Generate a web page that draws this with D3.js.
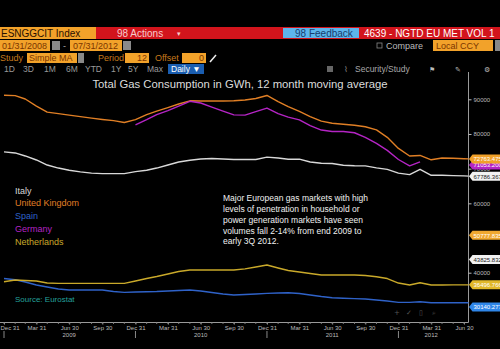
<!DOCTYPE html>
<html><head><meta charset="utf-8">
<script src="https://cdn.jsdelivr.net/npm/d3@7"></script>
<style>
html,body{margin:0;padding:0;background:#000;}
svg{display:block;font-family:"Liberation Sans",Arial,sans-serif;}
</style></head>
<body><svg id="c" width="500" height="349"></svg>
<script>
// ---------- DATA ----------
const months = ["2008-12","2009-01","2009-02","2009-03","2009-04","2009-05","2009-06","2009-07","2009-08","2009-09","2009-10","2009-11",
"2009-12","2010-01","2010-02","2010-03","2010-04","2010-05","2010-06","2010-07","2010-08","2010-09","2010-10","2010-11",
"2010-12","2011-01","2011-02","2011-03","2011-04","2011-05","2011-06","2011-07","2011-08","2011-09","2011-10","2011-11",
"2011-12","2012-01","2012-02","2012-03","2012-04","2012-05","2012-06","2012-07"];
const italy = [74825,74535,73663,72500,71046,70174,69535,69070,68721,68575,68575,68575,
69157,69535,70174,71046,71918,72442,72791,72936,72791,72645,72645,72645,
73314,73081,72733,72733,71918,71569,71482,70988,70843,70814,70233,69797,
68721,68285,69826,68082,68082,67994,67907,67786];
const unitedKingdom = [91163,91047,90087,88052,86308,85872,85436,85000,84564,84186,83837,83314,
84128,85581,86599,87616,88634,89564,89506,89506,89506,89564,89797,90233,
91105,89360,87907,86512,85000,83692,83110,82820,82529,82093,81163,79041,
75843,73663,73808,72558,73081,72994,72849,72763];
const spain = [38319,37973,37309,36444,35867,35291,35002,35002,35002,35002,34570,34339,
34425,34512,34570,34714,34858,35002,34714,34281,33849,33560,33705,33849,
34051,34137,34224,33993,33560,33128,32782,32638,32522,32407,32118,31829,
31455,31455,31628,31340,31340,31340,31340,31300];
const germany = [null,null,null,null,null,null,null,null,null,null,null,null,
82616,84128,85581,86744,88052,89419,88924,87762,86599,85523,85436,86453,
87471,85872,84855,84070,82384,81134,80698,80698,80349,79041,77296,75262,
72645,70814,71977,null,null,null,null,null];
const netherlands = [37396,37886,37742,37598,37021,36934,36934,36934,36934,36934,36934,36934,
37598,38319,38896,39617,40338,40770,40770,40770,40770,40770,41116,41635,
42212,41347,40626,40193,39761,39328,39328,39328,39328,39184,38838,38319,
37021,36444,37107,36444,36444,36500,36497,36497];
const seriesNames = ["Italy","United Kingdom","Spain","Germany","Netherlands"];
const seriesColors = ["#d8d8d8","#e07f25","#2f62c8","#b424c4","#c9a92a"];
const seriesData = [italy, unitedKingdom, spain, germany, netherlands];
// last-value tags on the right axis
const tagValues = [71053.2, 72763.475, 67786.367, 50777.835, 43825.832, 36496.766, 30140.277];
const tagColors = ["#b424c4","#f0a028","#f2f2f2","#f0a830","#f2f2f2","#e2b82a","#2f86e8"];
const tagTextColors = ["#fff","#fff","#222","#fff","#222","#fff","#fff"];
const yTicks = [40000,60000,70000,80000,90000];
const xTickDates = ["2008-12-31","2009-03-31","2009-06-30","2009-09-30","2009-12-31","2010-03-31","2010-06-30","2010-09-30",
"2010-12-31","2011-03-31","2011-06-30","2011-09-30","2011-12-31","2012-03-31","2012-06-30"];
const yearLabels = ["2009","2010","2011","2012"];
const yearLabelDates = ["2009-06-30","2010-06-30","2011-06-30","2012-03-31"];
const yearSepDates = ["2008-12-31","2009-12-31","2010-12-31","2011-12-31"];
const title = "Total Gas Consumption in GWh, 12 month moving average";
const noteLines = ["Major European gas markets with high","levels of penetration in household or","power generation markets have seen","volumes fall 2-14% from end 2009 to","early 3Q 2012."];

// ---------- SETUP ----------
const svg = d3.select("#c");
svg.append("rect").attr("width",500).attr("height",349).attr("fill","#000");
const parse = d3.utcParse("%Y-%m-%d");
const monthEnd = m => { const d = d3.utcParse("%Y-%m")(m); return d3.utcDay.offset(d3.utcMonth.offset(d,1),-1); };
const dates = months.map(monthEnd);

const x = d3.scaleUtc().domain([parse("2008-12-31"), parse("2012-06-30")]).range([4,464]);
const y = d3.scaleLinear().domain([40000,90000]).range([272.7,99.3]);
const plotR = 468.5, plotB = 322.5, plotT = 72;

// ---------- HEADER ----------
const hdr = svg.append("g").attr("font-size","10px");
hdr.append("rect").attr("x",0).attr("y",27).attr("width",96).attr("height",12).attr("fill","#f2a22a");
hdr.append("text").attr("x",1).attr("y",36.5).attr("fill","#2a1000").text("ESNGGCIT Index");
hdr.append("rect").attr("x",96).attr("y",27).attr("width",404).attr("height",12).attr("fill","#d2141c");
hdr.append("text").attr("x",117).attr("y",36.5).attr("fill","#f6cccc").text("98 Actions");
hdr.append("text").attr("x",177).attr("y",36).attr("fill","#f6cccc").attr("font-size","7px").text("▾");
hdr.append("rect").attr("x",283).attr("y",28).attr("width",76).attr("height",10).attr("fill","#5db5ec");
hdr.append("text").attr("x",295).attr("y",36.5).attr("fill","#173d6e").text("98 Feedback");
hdr.append("text").attr("x",364).attr("y",36.5).attr("fill","#fff").text("4639 - NGTD EU MET VOL 1");

const row2 = svg.append("g").attr("font-size","9px");
row2.append("rect").attr("x",0).attr("y",40).attr("width",50).attr("height",11).attr("fill","#f2a22a");
row2.append("text").attr("x",2).attr("y",48.5).attr("fill","#7a3500").text("01/31/2008");
row2.append("rect").attr("x",52).attr("y",41).attr("width",8).attr("height",9).attr("fill","#8a8a8a");
row2.append("text").attr("x",63).attr("y",48.5).attr("fill","#aaa").text("-");
row2.append("rect").attr("x",70).attr("y",40).attr("width",52).attr("height",11).attr("fill","#f2a22a");
row2.append("text").attr("x",73).attr("y",48.5).attr("fill","#7a3500").text("07/31/2012");
row2.append("rect").attr("x",123).attr("y",41).attr("width",8).attr("height",9).attr("fill","#8a8a8a");
row2.append("rect").attr("x",377).attr("y",43).attr("width",5).attr("height",5).attr("fill","none").attr("stroke","#888").attr("stroke-width",0.8);
row2.append("text").attr("x",386).attr("y",49).attr("fill","#bbb").text("Compare");
row2.append("rect").attr("x",433).attr("y",40).attr("width",60).attr("height",11).attr("fill","#f2a22a");
row2.append("text").attr("x",436).attr("y",48.5).attr("fill","#7a3500").text("Local CCY");
row2.append("rect").attr("x",495).attr("y",40).attr("width",5).attr("height",11).attr("fill","#888");

const row3 = svg.append("g").attr("font-size","9px");
row3.append("text").attr("x",0).attr("y",61).attr("fill","#c77a1c").text("Study");
row3.append("rect").attr("x",27).attr("y",53).attr("width",50).attr("height",10).attr("fill","#f2a22a");
row3.append("text").attr("x",29).attr("y",61).attr("fill","#7a3500").text("Simple MA");
row3.append("rect").attr("x",78).attr("y",53).attr("width",6).attr("height",10).attr("fill","#888");
row3.append("text").attr("x",98).attr("y",61).attr("fill","#c77a1c").text("Period");
row3.append("rect").attr("x",125).attr("y",53).attr("width",24).attr("height",10).attr("fill","#f2a22a");
row3.append("text").attr("x",147).attr("y",61).attr("text-anchor","end").attr("fill","#7a3500").text("12");
row3.append("text").attr("x",155).attr("y",61).attr("fill","#c77a1c").text("Offset");
row3.append("rect").attr("x",182).attr("y",53).attr("width",24).attr("height",10).attr("fill","#f2a22a");
row3.append("text").attr("x",204).attr("y",61).attr("text-anchor","end").attr("fill","#7a3500").text("0");
row3.append("line").attr("x1",210).attr("y1",62).attr("x2",216).attr("y2",55).attr("stroke","#eee").attr("stroke-width",1.5);

const row4 = svg.append("g").attr("font-size","8.5px").attr("fill","#9a9a9a");
[["1D",4],["3D",23],["1M",44],["6M",66],["YTD",85],["1Y",111],["5Y",128],["Max",147]].forEach(([t,xx])=>{
  row4.append("text").attr("x",xx).attr("y",72).text(t);
});
row4.append("rect").attr("x",168).attr("y",64).attr("width",36).attr("height",10).attr("fill","#1a5db0");
row4.append("text").attr("x",171).attr("y",72).attr("fill","#fff").text("Daily ▼");
row4.append("rect").attr("x",327).attr("y",66).attr("width",6).attr("height",6).attr("fill","#666");
row4.append("text").attr("x",344).attr("y",72).attr("fill","#888").attr("font-size","8px").text("⌇");
row4.append("text").attr("x",355).attr("y",72).attr("fill","#a8a8a8").text("Security/Study");
row4.append("text").attr("x",429).attr("y",72).attr("fill","#bbb").attr("font-family","DejaVu Sans").attr("font-size","7px").text("⚑");
row4.append("text").attr("x",455).attr("y",72).attr("fill","#bbb").attr("font-family","DejaVu Sans").attr("font-size","7px").text("✎");
row4.append("text").attr("x",484).attr("y",72).attr("fill","#bbb").attr("font-family","DejaVu Sans").attr("font-size","7px").text("⚙");

// ---------- TITLE ----------
svg.append("text").attr("x",240).attr("y",87.5).attr("text-anchor","middle")
  .attr("fill","#dcdcdc").attr("font-size","11.3px").text(title);

// ---------- AXES ----------
const axisG = svg.append("g");
axisG.append("line").attr("x1",plotR).attr("x2",plotR).attr("y1",plotT).attr("y2",plotB).attr("stroke","#9a9a9a");
axisG.append("line").attr("x1",0).attr("x2",plotR).attr("y1",plotB).attr("y2",plotB).attr("stroke","#9a9a9a");

const yAx = svg.append("g").attr("transform",`translate(${plotR},0)`)
  .call(d3.axisRight(y).tickValues(yTicks).tickSize(3).tickPadding(2).tickFormat(d3.format("d")));
yAx.select(".domain").remove();
yAx.selectAll("line").attr("stroke","#bbb");
yAx.selectAll("text").attr("fill","#bbb").attr("font-size","6px").attr("font-family","Liberation Sans");

const xAx = svg.append("g").attr("transform",`translate(0,${plotB})`)
  .call(d3.axisBottom(x).tickValues(xTickDates.map(parse)).tickSize(2).tickPadding(1).tickFormat(d3.utcFormat("%b %d")));
xAx.select(".domain").remove();
xAx.selectAll("line").attr("stroke","#999");
xAx.selectAll("text").attr("fill","#bbb").attr("font-size","6px").attr("font-family","Liberation Sans");
xAx.selectAll("text").filter((d,i)=>i===0).attr("text-anchor","start").attr("x",-4);
// monthly minor ticks
svg.append("g").selectAll("line").data(dates.slice(0,43)).join("line")
  .attr("x1",d=>x(d)).attr("x2",d=>x(d)).attr("y1",plotB).attr("y2",plotB+1.5).attr("stroke","#777");
// year separators & labels
svg.append("g").selectAll("line").data(yearSepDates).join("line")
  .attr("x1",d=>x(parse(d))).attr("x2",d=>x(parse(d))).attr("y1",331).attr("y2",338).attr("stroke","#888");
svg.append("g").selectAll("text").data(yearLabels).join("text")
  .attr("x",(d,i)=>x(parse(yearLabelDates[i]))).attr("y",337).attr("text-anchor","middle")
  .attr("fill","#bbb").attr("font-size","6px").text(d=>d);

// ---------- LINES ----------
svg.append("clipPath").attr("id","clip").append("rect").attr("x",0).attr("y",plotT).attr("width",plotR).attr("height",plotB-plotT);
const line = d3.line().defined(d=>d.v!=null).x(d=>x(d.t)).y(d=>y(d.v));
const lg = svg.append("g").attr("clip-path","url(#clip)");
seriesData.forEach((s,i)=>{
  lg.append("path").datum(s.map((v,k)=>({t:dates[k],v})))
    .attr("d",line).attr("fill","none").attr("stroke",seriesColors[i]).attr("stroke-width",1.4)
    .attr("stroke-linejoin","round");
});

// ---------- TAGS ----------
const tg = svg.append("g");
tagValues.forEach((v,i)=>{
  const ty = y(v);
  tg.append("path").attr("d",`M${plotR+0.5},${ty} L${plotR+4},${ty-4.5} L503,${ty-4.5} L503,${ty+4.5} L${plotR+4},${ty+4.5} Z`)
    .attr("fill",tagColors[i]);
  tg.append("text").attr("x",plotR+5).attr("y",ty+2.2).attr("fill",tagTextColors[i])
    .attr("font-size","6px").text(d3.format(".3f")(v));
});

// ---------- LEGEND ----------
const legY = [191,203,216,229,242];
svg.append("g").selectAll("text").data(seriesNames).join("text")
  .attr("x",15).attr("y",(d,i)=>legY[i]+3).attr("fill",(d,i)=>seriesColors[i])
  .attr("font-size","9px").text(d=>d);
svg.append("text").attr("x",15).attr("y",302).attr("fill","#24a09c").attr("font-size","8px").text("Source: Eurostat");

// ---------- NOTE ----------
svg.append("g").selectAll("text").data(noteLines).join("text")
  .attr("x",223).attr("y",(d,i)=>201+i*10.85).attr("fill","#f0f0f0").attr("font-size","8.5px").text(d=>d);

// small chart tool icons
const ic = svg.append("g").attr("fill","#555").attr("font-size","7px").attr("font-family","DejaVu Sans");
[["+",394],["✓",406],["▯",419],["⌕",432]].forEach(([t,xx])=>ic.append("text").attr("x",xx).attr("y",315).text(t));
</script></body></html>
